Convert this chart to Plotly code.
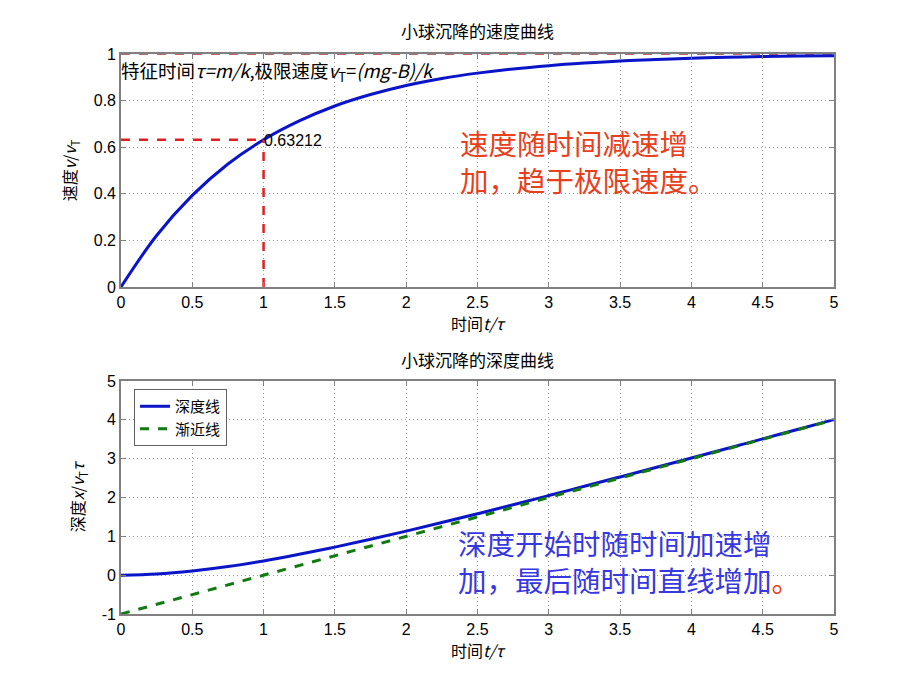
import plotly.graph_objects as go

t = [0, 0.25, 0.5, 0.75, 1, 1.25, 1.5, 1.75, 2, 2.25, 2.5, 2.75, 3, 3.25, 3.5, 3.75, 4, 4.25, 4.5, 4.75, 5]
v = [0, 0.221, 0.393, 0.528, 0.632, 0.713, 0.777, 0.826, 0.865, 0.895, 0.918, 0.936, 0.950, 0.961,
     0.970, 0.976, 0.982, 0.986, 0.989, 0.991, 0.993]
x_depth = [0, 0.029, 0.107, 0.222, 0.368, 0.537, 0.723, 0.924, 1.135, 1.355, 1.582, 1.814, 2.050,
           2.289, 2.530, 2.774, 3.018, 3.264, 3.511, 3.759, 4.007]
t_asym = [0, 5]
x_asym = [-1, 4]
t_limit = [0, 5]
v_limit = [1, 1]
t_mark_h = [0, 1]
v_mark_h = [0.63212, 0.63212]
t_mark_v = [1, 1]
v_mark_v = [0, 0.63212]
x_ticks = [0, 0.5, 1, 1.5, 2, 2.5, 3, 3.5, 4, 4.5, 5]
v_ticks = [0, 0.2, 0.4, 0.6, 0.8, 1]
d_ticks = [-1, 0, 1, 2, 3, 4, 5]

FONT = "Liberation Sans, Noto Sans CJK SC, sans-serif"
CJK = "Noto Sans CJK SC, sans-serif"

fig = go.Figure()
fig.add_trace(go.Scatter(x=t_limit, y=v_limit, mode="lines", line=dict(color="#a83232", width=1.5, dash="dash"),
                         showlegend=False, xaxis="x", yaxis="y", cliponaxis=False))
fig.add_trace(go.Scatter(x=t, y=v, mode="lines", line=dict(color="#0a14c8", width=3, shape="spline"),
                         showlegend=False, xaxis="x", yaxis="y"))
fig.add_trace(go.Scatter(x=t_mark_h, y=v_mark_h, mode="lines", line=dict(color="#e02020", width=2.5, dash="dash"),
                         showlegend=False, xaxis="x", yaxis="y"))
fig.add_trace(go.Scatter(x=t_mark_v, y=v_mark_v, mode="lines", line=dict(color="#e02020", width=2.5, dash="dash"),
                         showlegend=False, xaxis="x", yaxis="y"))
fig.add_trace(go.Scatter(x=t, y=x_depth, mode="lines", name="深度线",
                         line=dict(color="#0a14c8", width=3, shape="spline"), xaxis="x2", yaxis="y2"))
fig.add_trace(go.Scatter(x=t_asym, y=x_asym, mode="lines", name="渐近线",
                         line=dict(color="#127a12", width=3, dash="dash"), xaxis="x2", yaxis="y2"))

axis_common = dict(
    range=[0, 5], showgrid=True, gridcolor="#9a9a9a", griddash="1px,3px", gridwidth=1,
    showline=True, linecolor="#808080", linewidth=1.5, mirror="ticks", ticks="inside",
    ticklen=5, tickcolor="#808080", zeroline=False, automargin=False,
    tickfont=dict(family=FONT, size=16, color="black"),
)
title_font = dict(family=CJK, size=16, color="black")

XD = [0.1228, 0.8978]

fig.update_layout(
    width=920, height=690, margin=dict(l=0, r=0, t=0, b=0, autoexpand=False),
    paper_bgcolor="white", plot_bgcolor="white",
    xaxis=dict(axis_common, domain=XD, anchor="y", tickvals=x_ticks,
               ticktext=[str(a) for a in x_ticks],
               title=dict(text="时间<i>t/τ</i>", font=title_font, standoff=4)),
    yaxis=dict(axis_common, domain=[0.5957, 0.9333], anchor="x", range=[0, 1], tickvals=v_ticks,
               ticktext=["0", "0.2", "0.4", "0.6", "0.8", "1"],
               title=dict(text="速度<i>v</i>/<i>v</i><sub>T</sub>", font=title_font, standoff=13)),
    xaxis2=dict(axis_common, domain=XD, anchor="y2", tickvals=x_ticks,
                ticktext=[str(a) for a in x_ticks],
                title=dict(text="时间<i>t/τ</i>", font=title_font, standoff=4)),
    yaxis2=dict(axis_common, domain=[0.1217, 0.4594], anchor="x2", range=[-1, 5], tickvals=d_ticks,
                ticktext=[str(a) for a in d_ticks],
                title=dict(text="深度<i>x</i>/<i>v</i><sub>T</sub><i>τ</i>", font=title_font, standoff=13)),
    legend=dict(x=0.1370, y=0.4478, xref="paper", yref="paper", xanchor="left", yanchor="top",
                bgcolor="white", bordercolor="#606060", borderwidth=1,
                font=dict(family=CJK, size=15, color="black"), tracegroupgap=0),
    showlegend=True,
)

annotations = [
    dict(text="小球沉降的速度曲线", x=0.5103, y=0.9333, xref="paper", yref="paper", xanchor="center", yanchor="bottom",
         showarrow=False, font=dict(family=CJK, size=17, color="black"), yshift=9),
    dict(text="小球沉降的深度曲线", x=0.5103, y=0.4594, xref="paper", yref="paper", xanchor="center", yanchor="bottom",
         showarrow=False, font=dict(family=CJK, size=17, color="black"), yshift=7),
    dict(text="特征时间<i>τ=m/k</i>,极限速度<i>v</i><sub>T</sub>=<i>(mg-B)/k</i>", x=0, y=0.927, xref="x", yref="y",
         xanchor="left", yanchor="middle", showarrow=False, font=dict(family=CJK, size=18.5, color="black"),
         borderpad=0, xshift=-1),
    dict(text="0.63212", x=1, y=0.632, xref="x", yref="y", xanchor="left", yanchor="bottom",
         showarrow=False, font=dict(family=FONT, size=16, color="black"), borderpad=0, xshift=-1, yshift=-10),
    dict(text="速度随时间减速增<br>加，趋于极限速度。", x=2.364, y=0.54, xref="x", yref="y", xanchor="left", yanchor="middle",
         align="left", showarrow=False, font=dict(family=CJK, size=28.5, color="#e8401c")),
    dict(text="深度开始时随时间加速增<br>加，最后随时间直线增加<span style='color:#e8401c'>。</span>", x=2.35, y=0.36,
         xref="x2", yref="y2", xanchor="left", yanchor="middle",
         align="left", showarrow=False, font=dict(family=CJK, size=28.5, color="#3838e0")),
]
fig.update_layout(annotations=annotations)

fig.write_html("out.html")
